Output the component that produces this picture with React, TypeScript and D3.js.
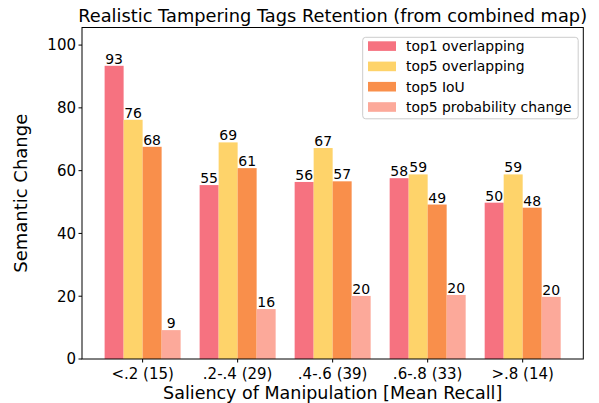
import React from "react";
import * as d3 from "d3";

const categories = ["<.2 (15)", ".2-.4 (29)", ".4-.6 (39)", ".6-.8 (33)", ">.8 (14)"];
const seriesNames = ["top1 overlapping", "top5 overlapping", "top5 IoU", "top5 probability change"];
const top1Overlapping = [93.4, 55.4, 56.4, 57.6, 49.8];
const top5Overlapping = [76.2, 69.0, 67.2, 58.8, 58.8];
const top5IoU = [67.6, 60.8, 56.6, 49.2, 48.2];
const top5ProbChange = [9.2, 15.9, 20.1, 20.4, 19.8];
const colors = ["#F67280", "#FED36A", "#F98F4B", "#FCA99A"];
const yTicks = [0, 20, 40, 60, 80, 100];

const series = [top1Overlapping, top5Overlapping, top5IoU, top5ProbChange];

export default function App() {
  const W = 599, H = 403;
  const left = 82, right = 583.3, top = 27.5, bottom = 359;
  const x = d3.scaleLinear().domain([-0.638, categories.length - 1 + 0.638]).range([left, right]);
  const y = d3.scaleLinear().domain([0, 105.6]).range([bottom, top]);
  const barW = 0.2;
  const font = "'DejaVu Sans', sans-serif";
  const pxPer = x(1) - x(0);

  return (
    <svg width={W} height={H} style={{ position: "absolute", left: 0, top: 0 }} fontFamily={font}>
      <rect width={W} height={H} fill="#fff" />
      {series.map((vals, s) =>
        vals.map((v, i) => {
          const cx = i + (s - 1.5) * barW;
          const x0 = x(cx - barW / 2);
          return (
            <g key={`${s}-${i}`}>
              <rect x={x0} y={y(v)} width={barW * pxPer} height={y(0) - y(v)} fill={colors[s]} />
              <text x={x(cx)} y={y(v) - 2} textAnchor="middle" fontSize={14} fill="#000">
                {Math.round(v)}
              </text>
            </g>
          );
        })
      )}
      <rect x={left} y={top} width={right - left} height={bottom - top} fill="none" stroke="#000" strokeWidth={1} />
      {yTicks.map((t) => (
        <g key={t}>
          <line x1={left - 3.5} x2={left} y1={y(t)} y2={y(t)} stroke="#000" />
          <text x={left - 6} y={y(t)} dy="0.36em" textAnchor="end" fontSize={15}>{t}</text>
        </g>
      ))}
      {categories.map((c, i) => (
        <g key={c}>
          <line x1={x(i)} x2={x(i)} y1={bottom} y2={bottom + 3.5} stroke="#000" />
          <text x={x(i)} y={bottom + 20} textAnchor="middle" fontSize={15}>{c}</text>
        </g>
      ))}
      <text x={(left + right) / 2} y={bottom + 40} textAnchor="middle" fontSize={17.5}>
        Saliency of Manipulation [Mean Recall]
      </text>
      <text transform={`translate(27,${(top + bottom) / 2}) rotate(-90)`} textAnchor="middle" fontSize={18}>
        Semantic Change
      </text>
      <text x={(left + right) / 2} y={22} textAnchor="middle" fontSize={17.8}>
        Realistic Tampering Tags Retention (from combined map)
      </text>
      <rect x={362.7} y={37.3} width={215.5} height={81.5} rx={3} fill="#fff" fillOpacity={0.8} stroke="#ccc" />
      {seriesNames.map((n, s) => (
        <g key={n}>
          <rect x={368} y={41.3 + s * 20.3} width={28} height={9.6} fill={colors[s]} />
          <text x={406} y={46 + s * 20.3} dy="0.36em" fontSize={13.9}>{n}</text>
        </g>
      ))}
    </svg>
  );
}
